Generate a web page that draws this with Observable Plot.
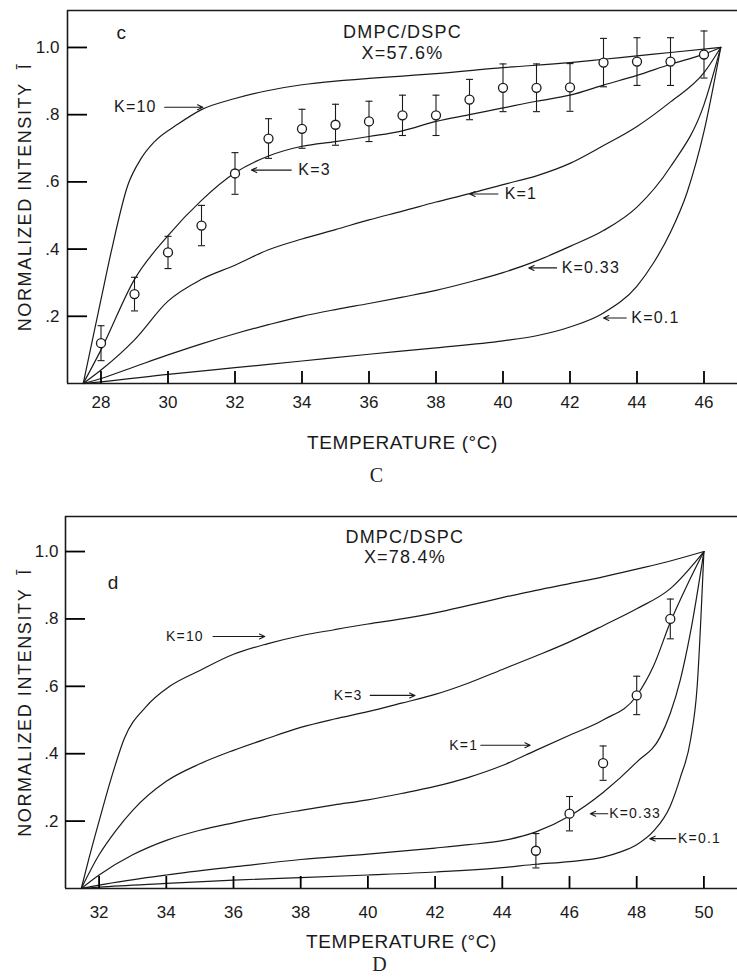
<!DOCTYPE html>
<html><head><meta charset="utf-8">
<script src="https://cdn.jsdelivr.net/npm/d3@7"></script>
<script src="https://cdn.jsdelivr.net/npm/@observablehq/plot@0.6"></script>
<style>
body{margin:0;background:#fff;width:737px;overflow:hidden;}
svg{display:block}
.cap{font-family:"Liberation Serif",serif;font-size:20px;color:#222;text-align:center;height:30px;line-height:30px;}
#capC{padding-left:16px;}
#capD{padding-left:22px;height:28px;line-height:28px;}
.pl g[aria-label="y-axis label"] text{font-size:18px;letter-spacing:1.6px;}
.pl g[aria-label="x-axis label"] text{font-size:19px;letter-spacing:0.6px;}
.pl g[aria-label="text"] text{letter-spacing:1.2px;}
</style></head><body>
<div id="c"></div><div class="cap" id="capC">C</div>
<div id="d"></div><div class="cap" id="capD">D</div>
<script>
// ---------- Panel C data (X = 57.6%) ----------
const cTemps = [28,29,30,31,32,33,34,35,36,37,38,39,40,41,42,43,44,45,46];
const cIntensity = [0.12,0.266,0.39,0.47,0.625,0.729,0.758,0.77,0.78,0.798,0.798,0.845,0.88,0.88,0.881,0.955,0.958,0.958,0.979];
const cError = [0.052,0.05,0.048,0.06,0.062,0.059,0.058,0.061,0.06,0.06,0.06,0.06,0.071,0.071,0.071,0.072,0.071,0.071,0.07];
const cXTicks = [28,30,32,34,36,38,40,42,44,46];
const cK10 = [[27.47,0],[28,0.25],[28.3,0.39],[28.8,0.59],[29.2,0.67],[29.6,0.72],[30.3,0.772],[31,0.815],[32,0.848],[33,0.872],[34,0.889],[35,0.9],[36,0.908],[37,0.915],[38,0.922],[40,0.94],[42,0.955],[43,0.965],[44,0.975],[45,0.985],[46.5,1.0]];
const cK3 = [[27.47,0],[28,0.1],[29,0.31],[30,0.44],[31,0.545],[32,0.627],[33,0.677],[34,0.706],[35,0.72],[36,0.735],[37,0.752],[38,0.78],[39,0.8],[40,0.82],[41,0.84],[42,0.858],[43,0.888],[44,0.917],[45,0.95],[46,0.98],[46.5,1.0]];
const cK1 = [[27.47,0],[28,0.04],[29,0.13],[30,0.245],[31,0.31],[32,0.352],[33,0.398],[34,0.43],[35,0.458],[36,0.487],[37,0.513],[38,0.54],[39,0.565],[40,0.592],[41,0.618],[42,0.655],[43,0.708],[44,0.765],[45,0.838],[46,0.925],[46.5,1.0]];
const cK033 = [[27.47,0],[28,0.015],[29,0.05],[30,0.085],[31,0.118],[32,0.148],[33,0.175],[34,0.2],[35,0.22],[36,0.238],[37,0.257],[38,0.277],[39,0.302],[40,0.33],[41,0.365],[42,0.408],[43,0.455],[44,0.525],[45,0.645],[46,0.83],[46.5,1.0]];
const cK01 = [[27.47,0],[28,0.005],[30,0.027],[32,0.047],[34,0.067],[36,0.087],[38,0.106],[40,0.127],[41,0.142],[42,0.168],[43,0.21],[44,0.29],[44.5,0.36],[45,0.45],[45.5,0.57],[46,0.75],[46.5,1.0]];

// ---------- Panel D data (X = 78.4%) ----------
const dTemps = [45,46,47,48,49];
const dIntensity = [0.112,0.222,0.372,0.573,0.80];
const dError = [0.051,0.051,0.051,0.057,0.059];
const dXTicks = [32,34,36,38,40,42,44,46,48,50];
const dK10 = [[31.47,0],[31.7,0.09],[32,0.2],[32.4,0.34],[32.75,0.445],[33.4,0.54],[34.1,0.6],[35,0.647],[36,0.695],[37,0.726],[38,0.75],[39,0.768],[40,0.785],[41,0.8],[42,0.818],[43,0.84],[44,0.863],[45,0.885],[46,0.905],[47,0.925],[48,0.948],[49,0.972],[50,1.0]];
const dK3 = [[31.47,0],[32,0.1],[32.5,0.172],[33,0.232],[34,0.318],[35,0.37],[36,0.41],[37,0.445],[38,0.478],[39,0.503],[40,0.525],[41,0.55],[42,0.576],[43,0.61],[44,0.65],[45,0.69],[46,0.732],[47,0.78],[48,0.83],[49,0.89],[50,1.0]];
const dK1 = [[31.47,0],[32,0.04],[33,0.1],[34,0.143],[35,0.173],[36,0.195],[37,0.215],[38,0.232],[39,0.248],[40,0.263],[41,0.282],[42,0.303],[43,0.33],[44,0.365],[45,0.41],[46,0.455],[47,0.5],[48,0.572],[48.5,0.66],[49,0.79],[49.5,0.9],[50,1.0]];
const dK033 = [[31.47,0],[32,0.01],[34,0.04],[36,0.064],[38,0.086],[40,0.102],[42,0.12],[43,0.13],[44,0.142],[45,0.168],[46,0.215],[47,0.285],[48,0.375],[48.7,0.45],[49,0.52],[49.3,0.62],[49.6,0.76],[50,1.0]];
const dK01 = [[31.47,0],[32,0.004],[34,0.015],[36,0.025],[38,0.032],[40,0.04],[42,0.049],[44,0.062],[45,0.072],[46,0.08],[47,0.093],[47.5,0.108],[48,0.13],[48.5,0.17],[49,0.245],[49.3,0.33],[49.6,0.44],[49.8,0.6],[50,1.0]];

const yTicks = [0.2,0.4,0.6,0.8,1.0];
const kNames = ["K=10","K=3","K=1","K=0.33","K=0.1"];

// annotation placements (data coordinates)
const cAnno = {
  labelX: [28.39,33.89,40.05,41.75,43.83], labelY: [0.822,0.635,0.564,0.344,0.195],
  arrowFrom: [29.9,33.68,39.85,41.6,43.68], arrowTo: [31.04,32.49,39.01,40.77,43.0],
  title: ["DMPC/DSPC","X=57.6%"], titleX: 37.0, titleY: [1.044,0.984],
  letter: "c", letterX: 28.62, letterY: 1.042
};
const dAnno = {
  labelX: [33.99,38.98,42.42,47.18,49.23], labelY: [0.748,0.573,0.425,0.222,0.148],
  arrowFrom: [35.39,40.07,43.36,47.14,49.16], arrowTo: [36.93,41.4,44.83,46.62,48.39],
  title: ["DMPC/DSPC","X=78.4%"], titleX: 41.1, titleY: [1.042,0.983],
  letter: "d", letterX: 32.43, letterY: 0.906
};

const capSymbol = {draw(ctx){ ctx.moveTo(-3.5,0); ctx.lineTo(3.5,0); }};
const fmtY = d => d === 1 ? "1.0" : String(d).replace("0.", ".");
const ink = "#1a1a1a";

function panel(cfg) {
  const pts = cfg.temps.map((t,i) => ({t, v: cfg.vals[i], lo: cfg.vals[i]-cfg.err[i], hi: cfg.vals[i]+cfg.err[i]}));
  const a = cfg.anno;
  const labs = kNames.map((k,i) => ({k, x: a.labelX[i], y: a.labelY[i], x1: a.arrowFrom[i], x2: a.arrowTo[i]}));
  const titles = a.title.map((s,i) => ({s, y: a.titleY[i]}));
  const curveMarks = cfg.curves.map(c => Plot.line(c, {x: d => d[0], y: d => d[1], curve: "monotone-x", stroke: ink, strokeWidth: 1.2}));
  const x0 = cfg.xDomain[0];
  const plotH = cfg.height - cfg.mt - cfg.mb;
  const plotW = 737 - cfg.ml;
  // inward tick lengths: 12 px (x ticks) and 20 px (y ticks), in scale units
  const xTickLen = 12 * cfg.yMax / plotH;
  const yTickLen = 20 * (cfg.xDomain[1] - cfg.xDomain[0]) / plotW;
  const xTickRows = cfg.xTicks.map(t => ({t, lo: 0, hi: xTickLen}));
  const yTickRows = yTicks.map(v => ({v, lo: x0, hi: x0 + yTickLen}));
  return Plot.plot({
    className: "pl",
    width: 737, height: cfg.height,
    marginLeft: cfg.ml, marginRight: 0, marginTop: cfg.mt, marginBottom: cfg.mb,
    x: {domain: cfg.xDomain},
    y: {domain: [0, cfg.yMax]},
    style: {fontFamily: "'Liberation Sans', sans-serif", fontSize: "17px", color: ink, background: "white", overflow: "visible"},
    marks: [
      Plot.axisX({ticks: cfg.xTicks, tickSize: 0, tickPadding: cfg.xpad, tickFormat: d => String(d), label: "TEMPERATURE (°C)", labelArrow: "none", labelAnchor: "center", labelOffset: cfg.xLabelOffset}),
      Plot.axisY({ticks: yTicks, tickSize: 0, tickPadding: cfg.ypad, tickFormat: fmtY, label: "NORMALIZED INTENSITY  Ī", labelArrow: "none", labelAnchor: "center", labelOffset: cfg.yLabelOffset}),
      Plot.ruleY([0], {stroke: ink, strokeWidth: 1.6}),
      Plot.ruleY([cfg.yMax], {stroke: ink, strokeWidth: 1.6}),
      Plot.ruleX([x0], {stroke: ink, strokeWidth: 1.6}),
      ...curveMarks,
      Plot.ruleX(xTickRows, {x: "t", y1: "lo", y2: "hi", stroke: "#000", strokeWidth: 1.8}),
      Plot.ruleY(yTickRows, {y: "v", x1: "lo", x2: "hi", stroke: "#000", strokeWidth: 1.8}),
      Plot.ruleX(pts, {x: "t", y1: "lo", y2: "hi", stroke: ink, strokeWidth: 1.1}),
      Plot.dot(pts, {x: "t", y: "lo", symbol: capSymbol, fill: "none", stroke: ink, strokeWidth: 1.1}),
      Plot.dot(pts, {x: "t", y: "hi", symbol: capSymbol, fill: "none", stroke: ink, strokeWidth: 1.1}),
      Plot.dot(pts, {x: "t", y: "v", r: 4.5, fill: "white", stroke: ink, strokeWidth: 1.3}),
      Plot.arrow(labs, {x1: "x1", x2: "x2", y1: "y", y2: "y", stroke: ink, strokeWidth: 1.1, headLength: 8, headAngle: 50}),
      Plot.text(labs, {x: "x", y: "y", text: "k", textAnchor: "start", fontSize: cfg.kFont, fill: ink}),
      Plot.text(titles, {x: () => a.titleX, y: "y", text: "s", textAnchor: "middle", fontSize: 18, fill: ink}),
      Plot.text([a.letter], {x: () => a.letterX, y: () => a.letterY, text: d => d, fontSize: 19, fill: ink})
    ]
  });
}

document.getElementById("c").append(panel({
  temps: cTemps, vals: cIntensity, err: cError, xTicks: cXTicks,
  curves: [cK10, cK3, cK1, cK033, cK01], anno: cAnno,
  height: 460, ml: 67, mt: 10, mb: 77, xDomain: [27, 47], yMax: 1.11,
  xpad: 12, ypad: 8, xLabelOffset: 65, yLabelOffset: 49, kFont: 16
}));
document.getElementById("d").append(panel({
  temps: dTemps, vals: dIntensity, err: dError, xTicks: dXTicks,
  curves: [dK10, dK3, dK1, dK033, dK01], anno: dAnno,
  height: 460, ml: 65, mt: 26, mb: 62, xDomain: [31, 51], yMax: 1.104,
  xpad: 17, ypad: 7, xLabelOffset: 59, yLabelOffset: 47, kFont: 14
}));
</script>
</body></html>
